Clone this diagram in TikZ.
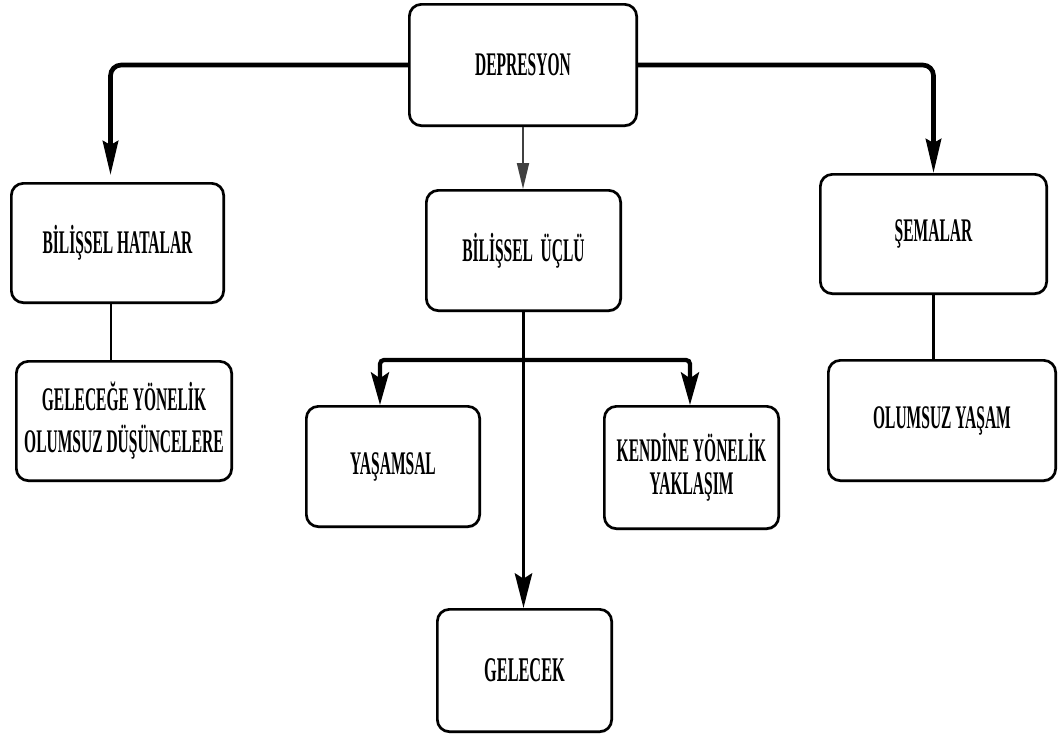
\documentclass[tikz,border=0pt]{standalone}
\usepackage{fontspec}
\setmainfont{Liberation Serif}[UprightFont=*-Bold, FakeStretch=0.47]
\usetikzlibrary{arrows.meta,calc,shadows}

\begin{document}
\begin{tikzpicture}[x=0.75pt,y=-0.75pt,
  box/.style 2 args={draw, line width=2pt, rounded corners=9pt, fill=white,
    minimum width=#1*0.75pt-2pt, minimum height=#2*0.75pt-2pt,
    inner sep=0pt, align=center,
    font=\fontsize{24.75}{30}\selectfont,
    drop shadow={shadow xshift=0.5pt, shadow yshift=-1.1pt, fill=black!50, opacity=0.55}},
  bigarrow/.style={line width=3.5pt, rounded corners=8pt,
    -{Stealth[length=25.5pt, width=11.5pt, inset=3pt]}},
  thinarrow/.style={line width=1.4pt, draw=black!75,
    -{Triangle[length=19.5pt, width=9pt, fill=black!75]}},
  midarrow/.style={line width=3.2pt, rounded corners=3pt,
    -{Stealth[length=24.5pt, width=13.5pt, inset=4.5pt]}},
  link/.style={line width=1.8pt}
]
\useasboundingbox (0,0) rectangle (1061,740);
\fill[white] (0,0) rectangle (1061,740);

% boxes
\node[box={230}{124}] (dep) at (523,65) {DEPRESYON};
\node[box={215}{122}] (hat) at (117.5,243) {BİLİŞSEL HATALAR};
\node[box={218}{122}, font=\fontsize{24.75}{31.5}\selectfont] (gel) at (124,421)
  {GELECEĞE YÖNELİK\\OLUMSUZ DÜŞÜNCELERE};
\node[box={197}{123}] (ucl) at (523.5,250.5) {\raisebox{-4pt}{BİLİŞSEL\ \ ÜÇLÜ}};
\node[box={229}{122}] (sem) at (933.5,234) {ŞEMALAR};
\node[box={230}{123}] (olu) at (942,420.5) {OLUMSUZ YAŞAM};
\node[box={176}{123}] (yas) at (393,466.5) {YAŞAMSAL};
\node[box={177}{125}, font=\fontsize{24.75}{25}\selectfont] (ken) at (691.5,467.5)
  {KENDİNE YÖNELİK\\YAKLAŞIM};
\node[box={177}{125}, font=\fontsize{26}{30}\selectfont] (gec) at (524.5,670.5) {GELECEK};

% end points of the vertical links
\coordinate (hatlink) at ($(hat.south)+(-6.5,0)$);
\coordinate (hattip) at ($(hat.north)+(-7,-7)$);
\coordinate (yastip) at ($(yas.north)+(-13,0)$);
\coordinate (kentip) at ($(ken.north)+(-1.5,0)$);

% connectors from the top box
\draw[bigarrow] (dep.west) -| (hattip);
\draw[bigarrow] (dep.east) -| (sem.north);
\draw[thinarrow] (dep.south) -- (dep.south |- ucl.north);

% side links
\draw[link] (hatlink) -- (hatlink |- gel.north);
\draw[line width=2pt] (sem.south) -- (sem.south |- olu.north);

% cognitive triad branches
\coordinate (jb) at ($(ucl.south)+(0,48)$);
\draw[midarrow] (jb) -| (yastip);
\draw[midarrow] (jb) -| (kentip);
\draw[line width=2.6pt, -{Stealth[length=26pt, width=13pt, inset=4pt]}]
  (ucl.south) -- (ucl.south |- gec.north);
\end{tikzpicture}
\end{document}
